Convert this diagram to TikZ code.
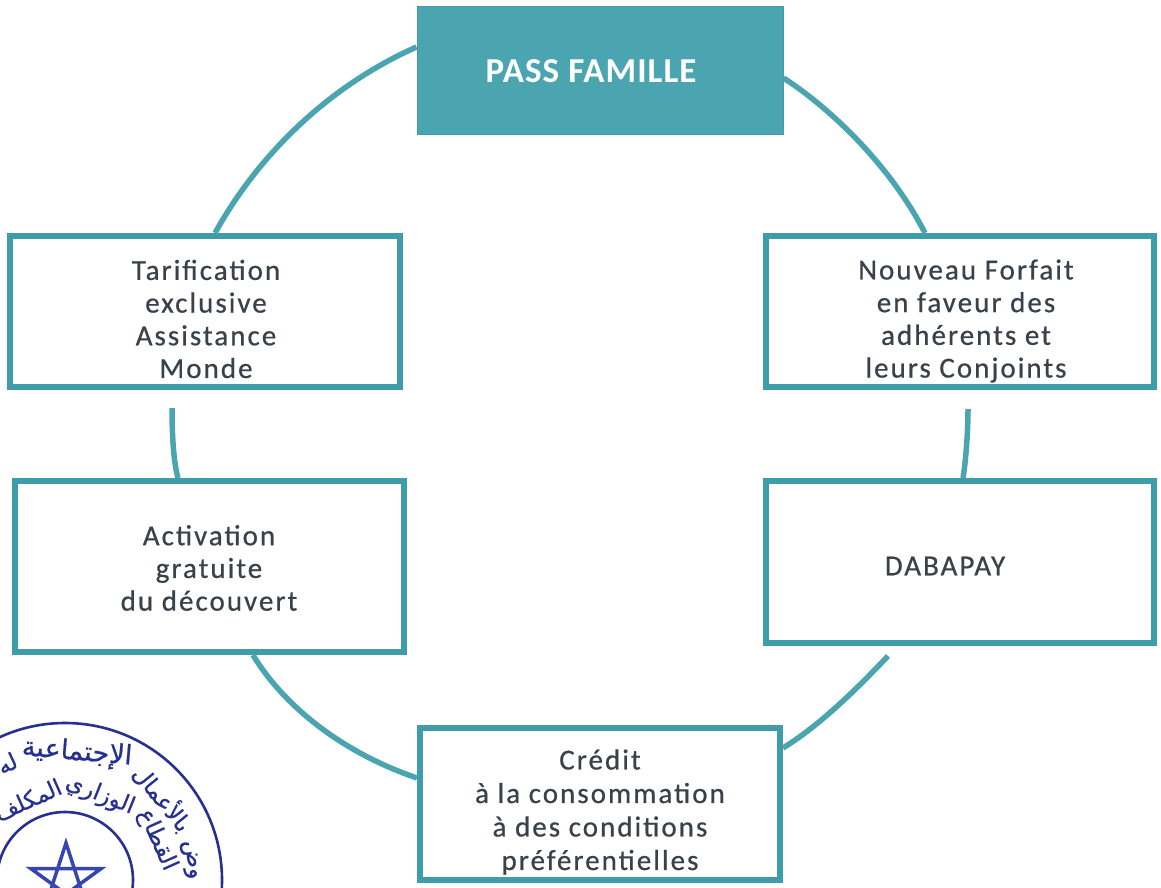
\documentclass[tikz,border=0pt]{standalone}
\usepackage{fontspec}
\usetikzlibrary{calc}
\setmainfont{Carlito}
\newfontfamily\boxfont[LetterSpace=7,FakeBold=0.6]{Carlito}
\newfontfamily\headfont[LetterSpace=3]{Carlito}
\TeXXeTstate=1
\newfontfamily\arabicfont[Script=Arabic,FakeBold=0.6]{DejaVu Sans}
\definecolor{teal1}{HTML}{4AA5B0}
\definecolor{teal2}{HTML}{3F9CA9}
\definecolor{txt1}{HTML}{39424A}
\definecolor{stampc}{HTML}{26308F}
\definecolor{starc}{HTML}{3645B0}
\tikzset{
  x=1pt,y=-1pt,
  linkline/.style={draw=teal1,line width=5.5pt},
  whitebox/.style={draw=teal2,fill=white,line width=6pt,inner sep=0pt},
  headbox/.style={fill=teal1,draw=teal2,line width=1pt,inner sep=0pt},
  boxtext/.style={text=txt1,align=center,font=\boxfont\fontsize{29}{32.7}\selectfont,inner sep=0pt},
  headtext/.style={text=white,font=\headfont\bfseries\fontsize{35}{40}\selectfont,inner sep=0pt},
  ring/.style={draw=stampc,line width=2.6pt},
  arabicword/.style={text=stampc,font=\arabicfont\fontsize{23}{26}\selectfont,inner sep=0pt},
}
\newcommand{\mkbox}[6]{%
  \node[#6,minimum width=#4pt-#2pt,minimum height=#5pt-#3pt] (#1) at ({(#2+#4)/2},{(#3+#5)/2}) {};}
\begin{document}
\begin{tikzpicture}
\useasboundingbox (0,0) rectangle (1161,888);
\clip (0,0) rectangle (1161,888);
\fill[white] (0,0) rectangle (1161,888);

% boxes
\mkbox{pass}{417}{7}{783}{134}{headbox}
\mkbox{tarif}{10}{236}{400}{387}{whitebox}
\mkbox{forfait}{766}{236}{1154}{387}{whitebox}
\mkbox{activ}{15}{481}{404}{652}{whitebox}
\mkbox{daba}{766}{481}{1154}{643}{whitebox}
\mkbox{credit}{420}{728}{780}{880}{whitebox}

% connectors
\draw[linkline] ([yshift=23.5pt]pass.west) .. controls (331,85) and (260,152) .. ([xshift=10pt]tarif.north);
\draw[linkline] ([yshift=-7.5pt]pass.east) .. controls (830,108) and (890,165) .. ([xshift=-35pt]forfait.north);
\draw[linkline] ([xshift=-33pt,yshift=-18pt]tarif.south) .. controls (172,430) and (173,460) .. ([xshift=-31.5pt]activ.north);
\draw[linkline] ([xshift=8pt,yshift=-19pt]forfait.south) .. controls (968,430) and (966,460) .. ([xshift=3pt]daba.north);
\draw[linkline] ([xshift=43.5pt]activ.south) .. controls (280,700) and (335,750) .. ([yshift=26pt]credit.west);
\draw[linkline] ([xshift=-72pt,yshift=-10pt]daba.south) .. controls (865,680) and (825,722) .. ([yshift=56pt]credit.east);

% labels
\node[headtext] (passlabel) at (591,71) {PASS FAMILLE};
\node[boxtext] (tariflabel) at (206,319) {Tarification\\exclusive\\Assistance\\Monde};
\node[boxtext] (forfaitlabel) at (966,321) {Nouveau Forfait\\en faveur des\\adhérents et\\leurs Conjoints};
\node[boxtext] (activlabel) at (209,568) {Activation\\gratuite\\du découvert};
\node[boxtext] (dabalabel) at (945,566) {DABAPAY};
\node[boxtext,font=\boxfont\fontsize{29}{33.5}\selectfont] (creditlabel) at (600,812) {Crédit\\à la consommation\\à des conditions\\préférentielles};

% stamp
\coordinate (sc) at (65,880);
\draw[ring] (sc) circle (157);
\draw[ring] (sc) circle (68);
\coordinate (starc1) at (66,880);
\draw[draw=starc,line width=3.5pt,miter limit=10]
  ($(starc1)+({37*cos(90)},{-37*sin(90)})$)
  -- ($(starc1)+({37*cos(234)},{-37*sin(234)})$)
  -- ($(starc1)+({37*cos(18)},{-37*sin(18)})$)
  -- ($(starc1)+({37*cos(162)},{-37*sin(162)})$)
  -- ($(starc1)+({37*cos(306)},{-37*sin(306)})$) -- cycle;
\node[arabicword,rotate=-81] (w1) at ($(sc)+(125,-20)$) {\beginR وض\endR};
\node[arabicword,rotate=-51] (w2) at ($(sc)+(98,-82)$) {\beginR بالأعمال\endR};
\node[arabicword,rotate=-5,font=\arabicfont\fontsize{27}{30}\selectfont] (w3) at ($(sc)+(12,-127)$) {\beginR الإجتماعية\endR};
\node[arabicword,rotate=25] (w4) at ($(sc)+(-58,-117)$) {\beginR له\endR};
\node[arabicword,rotate=-66] (w5) at ($(sc)+(92,-40)$) {\beginR القطاع\endR};
\node[arabicword,rotate=-22] (w6) at ($(sc)+(35,-85)$) {\beginR الوزاري\endR};
\node[arabicword,rotate=24] (w7) at ($(sc)+(-37,-80)$) {\beginR المكلف\endR};
\end{tikzpicture}
\end{document}
